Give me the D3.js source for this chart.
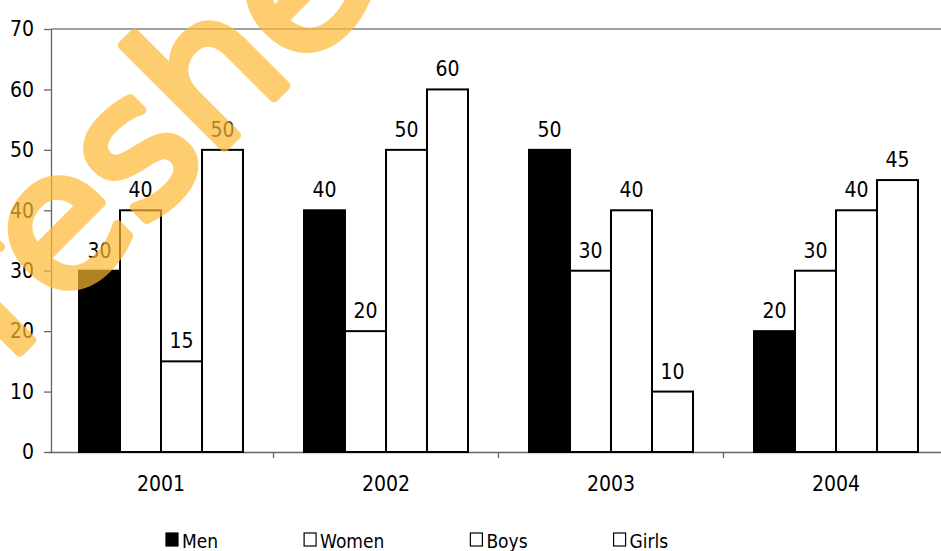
<!DOCTYPE html>
<html>
<head>
<meta charset="utf-8">
<script src="https://cdn.jsdelivr.net/npm/d3@7"></script>
<style>
  body { margin: 0; background: #fff; }
  text { font-family: "DejaVu Sans Condensed", "DejaVu Sans", sans-serif; font-stretch: condensed; fill: #000; }
</style>
</head>
<body>
<div id="chart"></div>
<script>
// data
var years = ["2001", "2002", "2003", "2004"];
var seriesNames = ["Men", "Women", "Boys", "Girls"];
var men   = [30, 40, 50, 20];
var women = [40, 20, 30, 30];
var boys  = [15, 50, 40, 40];
var girls = [50, 60, 10, 45];
var yTicks = [0, 10, 20, 30, 40, 50, 60, 70];
var seriesFill = ["#000000", "#ffffff", "#ffffff", "#ffffff"];

var width = 941, height = 551;

var svg = d3.select("#chart").append("svg")
  .attr("width", width)
  .attr("height", height);

var rows = [];
var allSeries = [men, women, boys, girls];
years.forEach(function(yr, i){
  seriesNames.forEach(function(s, j){
    rows.push({year: yr, series: s, value: allSeries[j][i], idx: j});
  });
});

var y = d3.scaleLinear().domain([0, 70]).range([452, 29]);
var x0 = d3.scaleBand().domain(years).range([48.5, 948.5]);
var x1 = d3.scaleBand().domain(seriesNames).range([30.5, 194.5]);

// top border of plot area
svg.append("line")
  .attr("x1", 51).attr("x2", width)
  .attr("y1", y(70)).attr("y2", y(70))
  .attr("stroke", "#808080").attr("stroke-width", 1.3);

// y axis
var yAxis = svg.append("g")
  .attr("transform", "translate(51,0)")
  .call(d3.axisLeft(y).tickValues(yTicks).tickSize(7).tickSizeOuter(0).tickPadding(10));
yAxis.select(".domain").attr("stroke", "#666").attr("stroke-width", 1.3);
yAxis.selectAll(".tick line").attr("stroke", "#666").attr("stroke-width", 1.3);
yAxis.selectAll(".tick text").style("font-size", "21px").attr("fill", "#000");

// x axis
var xAxis = svg.append("g")
  .attr("transform", "translate(0," + y(0) + ")")
  .call(d3.axisBottom(x0).tickSize(0).tickPadding(24));
xAxis.select(".domain").attr("stroke", "#666").attr("stroke-width", 1.3);
xAxis.selectAll(".tick text").style("font-size", "21px").attr("fill", "#000");
// boundary ticks between categories
svg.append("g").selectAll("line")
  .data(years.slice(1))
  .enter().append("line")
  .attr("x1", function(d){ return x0(d); })
  .attr("x2", function(d){ return x0(d); })
  .attr("y1", y(0)).attr("y2", y(0) + 6)
  .attr("stroke", "#666").attr("stroke-width", 1.3);

// bars
svg.append("g").selectAll("rect")
  .data(rows)
  .enter().append("rect")
  .attr("x", function(d){ return x0(d.year) + x1(d.series); })
  .attr("y", function(d){ return y(d.value); })
  .attr("width", x1.bandwidth())
  .attr("height", function(d){ return y(0) - y(d.value); })
  .attr("fill", function(d){ return seriesFill[d.idx]; })
  .attr("stroke", "#000")
  .attr("stroke-width", 2);

// value labels
svg.append("g").selectAll("text")
  .data(rows)
  .enter().append("text")
  .attr("x", function(d){ return x0(d.year) + x1(d.series) + x1.bandwidth() / 2; })
  .attr("y", function(d){ return y(d.value) - 13; })
  .attr("text-anchor", "middle")
  .style("font-size", "21px")
  .text(function(d){ return d.value; });

// legend
var legend = svg.append("g");
var lx = 166;
seriesNames.forEach(function(s, j){
  legend.append("rect")
    .attr("x", lx).attr("y", 533)
    .attr("width", 12).attr("height", 13)
    .attr("fill", seriesFill[j])
    .attr("stroke", "#000").attr("stroke-width", 1.2);
  var t = legend.append("text")
    .attr("x", lx + 16).attr("y", 548)
    .style("font-size", "19px")
    .text(s);
  lx = lx + 16 + t.node().getComputedTextLength() + 86;
});

// watermark
svg.append("text")
  .attr("transform", "rotate(-45)")
  .attr("x", -348).attr("y", 263)
  .style("font-family", "DejaVu Sans, sans-serif")
  .style("font-stretch", "normal")
  .style("font-size", "190px")
  .style("fill", "#FDB933")
  .style("stroke", "#FDB933")
  .style("stroke-width", 9)
  .style("stroke-linejoin", "round")
  .style("opacity", 0.7)
  .text("Freshers");
</script>
</body>
</html>
